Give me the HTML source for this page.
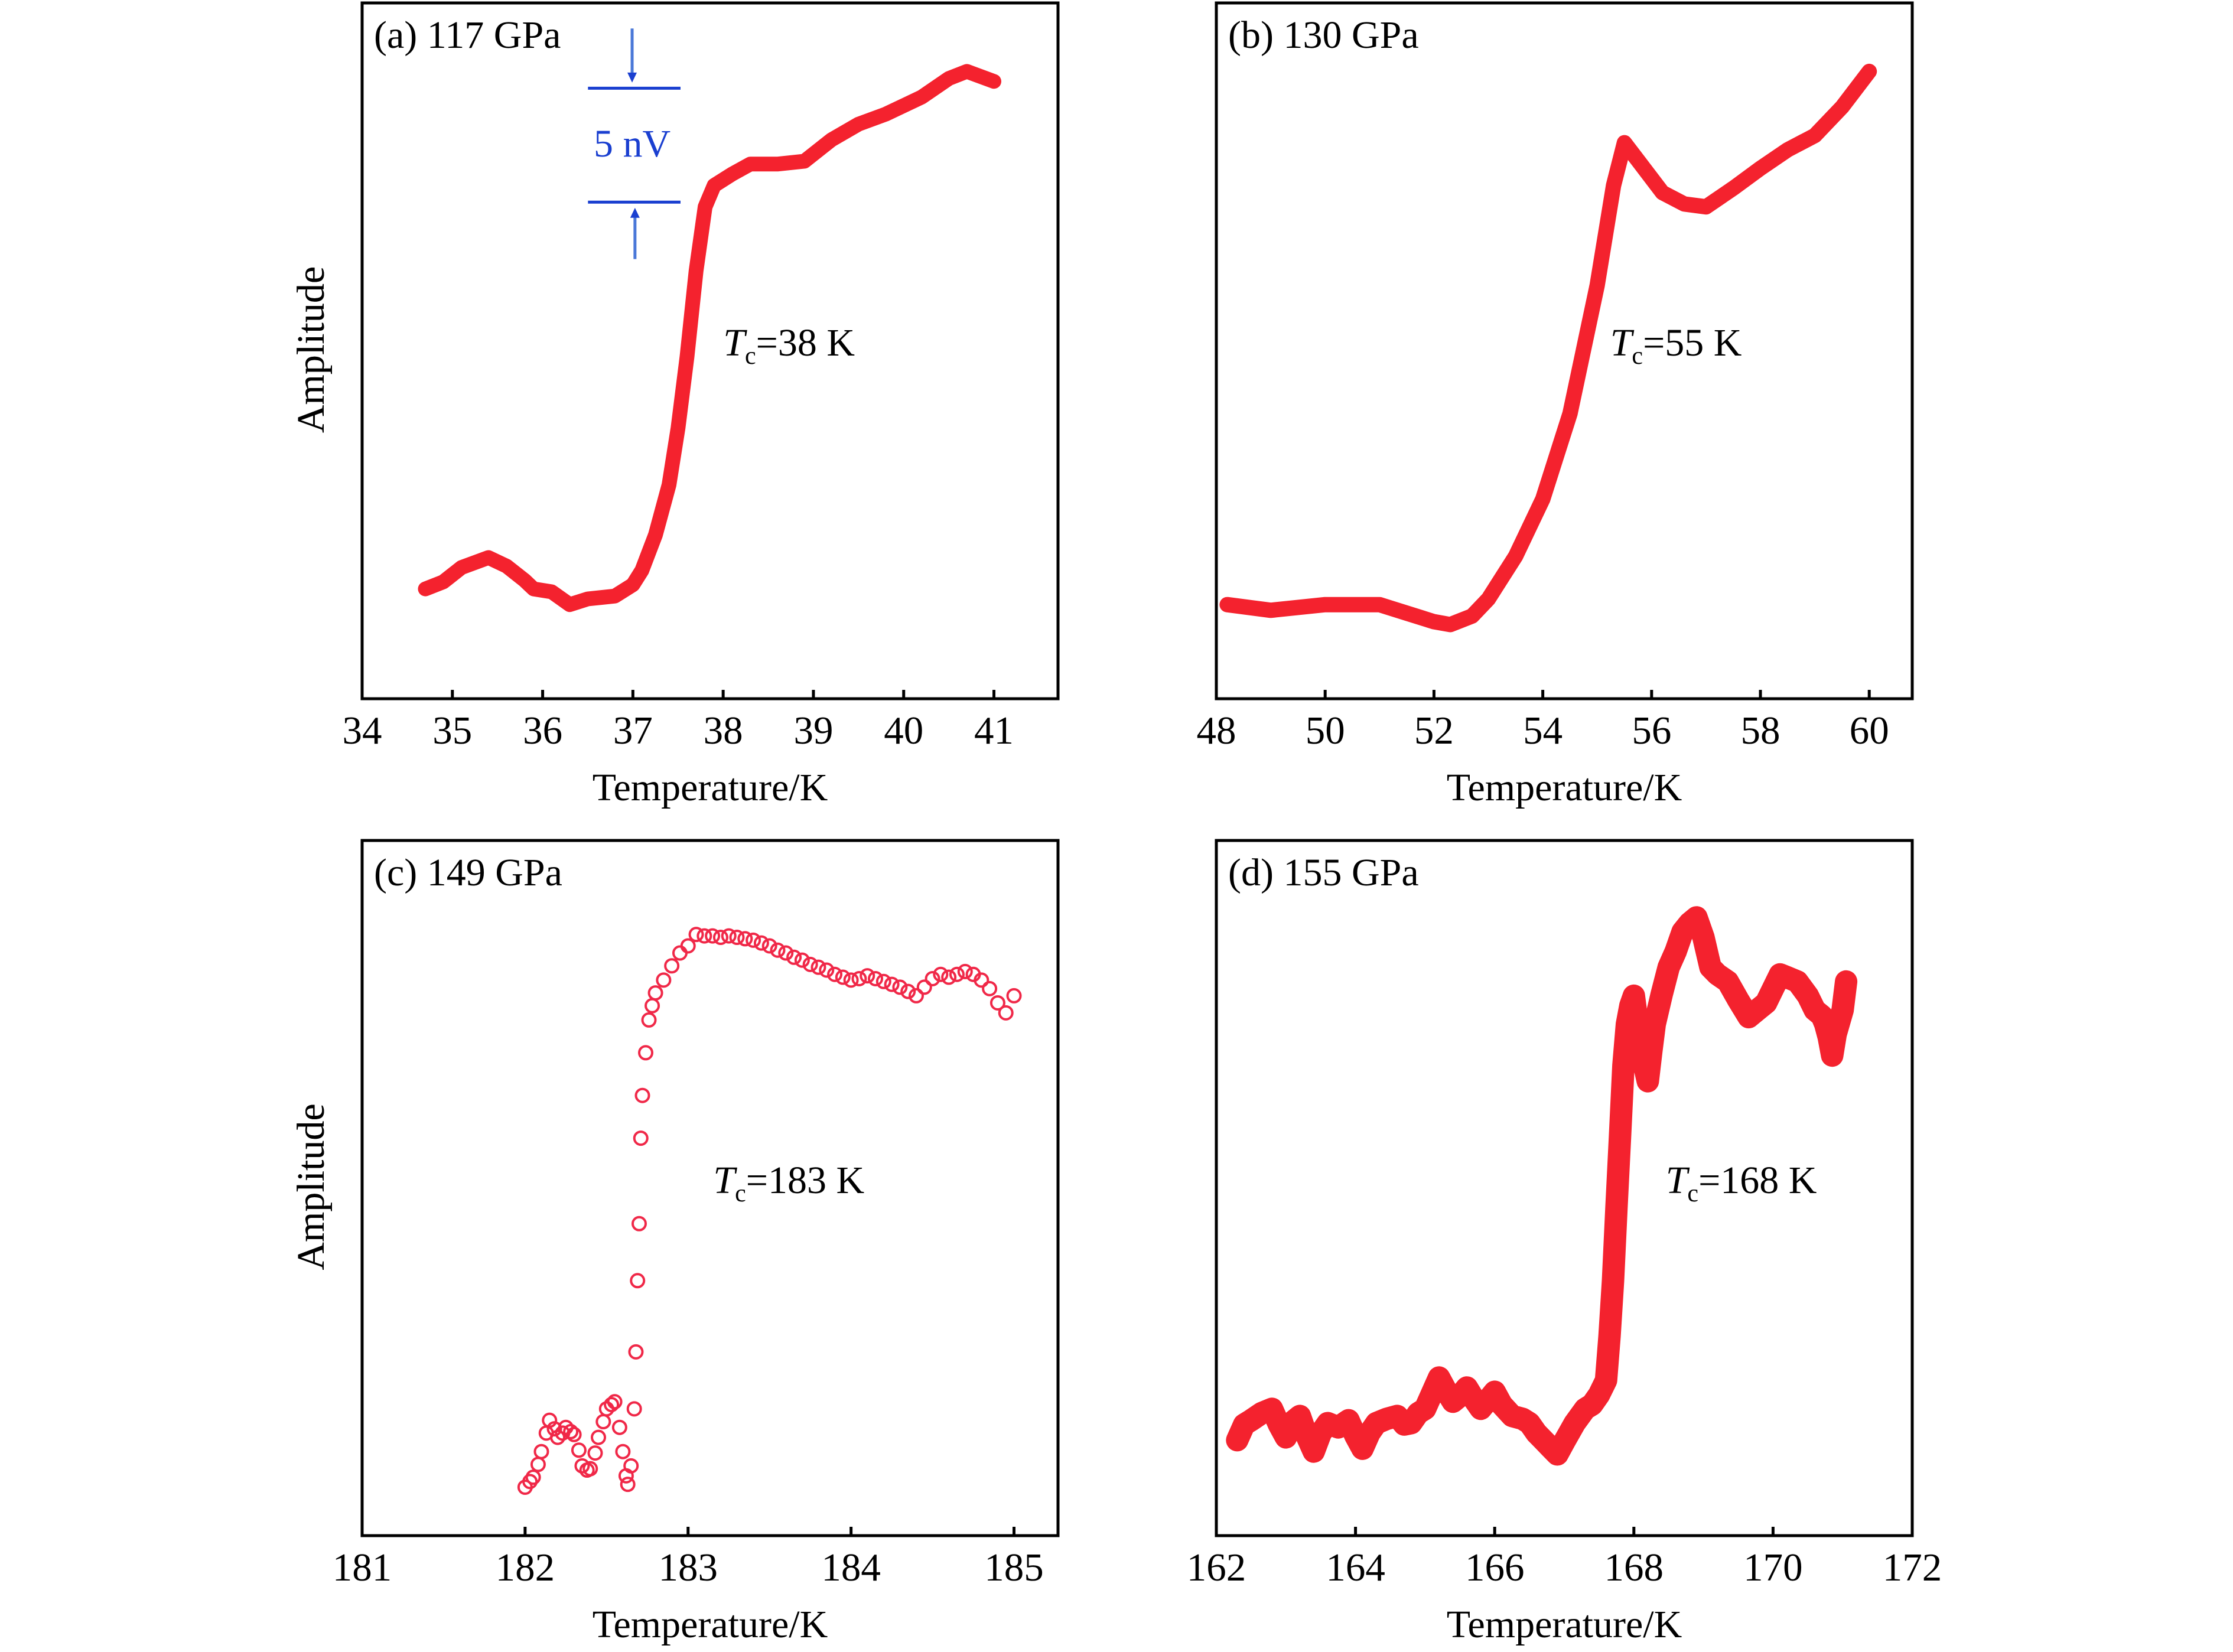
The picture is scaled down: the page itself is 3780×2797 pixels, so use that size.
<!DOCTYPE html>
<html><head><meta charset="utf-8"><style>
html,body{margin:0;padding:0;background:#fff;}
svg{display:block;}
text{font-family:"Liberation Serif",serif;fill:#000;}
</style></head><body>
<svg id="fig" width="3780" height="2797" viewBox="0 0 3780 2797" xmlns="http://www.w3.org/2000/svg"></svg>
<script>
// Panel (a) 117 GPa
const tempA=[34.7,34.9,35.1,35.4,35.6,35.8,35.9,36.1,36.3,36.5,36.8,37.0,37.1,37.25,37.4,37.5,37.6,37.7,37.8,37.9,38.1,38.3,38.6,38.9,39.2,39.5,39.8,40.2,40.5,40.7,41.0];
const ampA=[77,82,92,99,93,83,77,75,66,70,72,80,90,115,150,190,240,300,345,360,368,375,375,377,392,403,410,422,435,440,433];
// Panel (b) 130 GPa
const tempB=[48.2,49,50,51,51.5,52,52.3,52.7,53,53.5,54,54.5,55,55.3,55.5,55.8,56.2,56.6,57,57.5,58,58.5,59,59.5,60];
const ampB=[66,62,66,66,60,54,52,58,70,100,140,200,290,360,390,375,355,347,345,358,372,385,395,415,440];
// Panel (c) 149 GPa
const tempC=[182.0,182.03,182.05,182.08,182.1,182.13,182.15,182.18,182.2,182.23,182.25,182.28,182.3,182.33,182.35,182.38,182.4,182.43,182.45,182.48,182.5,182.53,182.55,182.58,182.6,182.62,182.63,182.65,182.67,182.68,182.69,182.7,182.71,182.72,182.74,182.76,182.78,182.8,182.85,182.9,182.95,183.0,183.05,183.1,183.15,183.2,183.25,183.3,183.35,183.4,183.45,183.5,183.55,183.6,183.65,183.7,183.75,183.8,183.85,183.9,183.95,184.0,184.05,184.1,184.15,184.2,184.25,184.3,184.35,184.4,184.45,184.5,184.55,184.6,184.65,184.7,184.75,184.8,184.85,184.9,184.95,185.0];
const ampC=[34,38,41,50,59,72,81,75,69,72,76,73,71,60,49,46,47,58,69,80,89,92,94,76,59,42,36,49,89,129,179,219,279,309,339,362,372,381,390,400,409,414,422,421,421,420,421,420,419,418,416,414,411,409,406,404,401,399,397,394,392,390,391,393,391,389,387,385,382,379,385,391,394,392,394,396,394,390,384,374,367,379];
// Panel (d) 155 GPa
const tempD=[162.3,162.4,162.5,162.65,162.8,162.9,163.0,163.1,163.2,163.3,163.4,163.5,163.6,163.75,163.9,164.0,164.1,164.2,164.3,164.45,164.6,164.7,164.8,164.9,165.0,165.1,165.2,165.3,165.4,165.5,165.6,165.7,165.8,165.9,166.0,166.1,166.25,166.4,166.5,166.6,166.7,166.8,166.9,167.0,167.15,167.3,167.4,167.5,167.6,167.65,167.7,167.75,167.8,167.85,167.9,167.95,168.0,168.05,168.1,168.15,168.2,168.25,168.3,168.4,168.5,168.6,168.7,168.8,168.9,169.0,169.1,169.2,169.35,169.5,169.65,169.8,169.9,170.0,170.1,170.2,170.35,170.5,170.6,170.7,170.75,170.8,170.85,170.9,171.0,171.05];
const ampD=[67,78,81,86,89,78,69,80,84,70,59,72,79,76,81,70,61,72,79,82,84,78,79,86,89,100,111,102,94,98,104,96,89,95,101,92,84,82,79,72,67,62,57,66,79,89,92,99,109,140,179,230,279,330,359,372,379,360,339,330,319,340,359,380,399,410,424,430,434,420,399,394,389,376,364,370,374,384,394,392,389,379,369,365,359,350,337,352,369,389];
// Tick labels
const ticksA=[34,35,36,37,38,39,40,41];
const ticksB=[48,50,52,54,56,58,60];
const ticksC=[181,182,183,184,185];
const ticksD=[162,164,166,168,170,172];

const NS="http://www.w3.org/2000/svg";
const svg=document.getElementById('fig');
const S=2.41;
function el(tag,attrs,parent){const e=document.createElementNS(NS,tag);for(const k in attrs)e.setAttribute(k,attrs[k]);(parent||svg).appendChild(e);return e;}

function panel(cfg){
  const g=el('g',{});
  
  
  const L=cfg.x0,R=cfg.x1,T=cfg.y0,B=cfg.y1;
  const xs=v=>L+(v-cfg.xmin)/(cfg.xmax-cfg.xmin)*(R-L);
  const ys=v=>B-v/488*(B-T);
  const frame=el('rect',{x:L,y:T,width:R-L,height:B-T,fill:'none',stroke:'#000','stroke-width':5},g);
  
  
  cfg.ticks.forEach(t=>{
    const x=xs(t);
    const tk=el('line',{x1:x,x2:x,y1:B,y2:B-15,stroke:'#000','stroke-width':5},g);
    
    
    const tl=el('text',{x:x,y:B+76,'font-size':67,'text-anchor':'middle'},g);
    tl.textContent=t;
    
    
  });
  const xt=el('text',{x:(L+R)/2,y:B+172,'font-size':66,'text-anchor':'middle'},g);
  xt.textContent='Temperature/K';
  
  
  const cy=(T+B)/2-2;
  const yt=el('text',{x:0,y:0,'font-size':66,'text-anchor':'middle',transform:`translate(548,${cy}) rotate(-90)`},g);
  yt.textContent='Amplitude';
  
  
  const pl=el('text',{x:L+20,y:T+76,'font-size':66},g);
  pl.textContent=cfg.label;
  
  
  const tc=el('text',{x:cfg.tcx,y:T+597,'font-size':66},g);
  const ti=el('tspan',{'font-style':'italic'},tc);ti.textContent='T';
  const ts=el('tspan',{'font-size':42,dy:14},tc);ts.textContent='c';
  const tr=el('tspan',{dy:-14},tc);tr.textContent=cfg.tc;
  
  
  const pts=cfg.t.map((v,i)=>xs(v).toFixed(1)+','+ys(cfg.a[i]).toFixed(1)).join(' ');
  if(cfg.circles){
    cfg.t.forEach((v,i)=>{
      const c=el('circle',{cx:xs(v),cy:ys(cfg.a[i]),r:11,fill:'none',stroke:'#f02848','stroke-width':4},g);
      
      
    });
  } else {
    const ln=el('polyline',{points:pts,fill:'none',stroke:'#f4222e','stroke-width':cfg.sw,'stroke-linejoin':'round','stroke-linecap':'round'},g);
    
    
  }
  return g;
}
panel({name:'panel-a',x0:613,x1:1791,y0:5,y1:1183,xmin:34,xmax:41.71,ticks:ticksA,label:'(a) 117 GPa',tc:'=38 K',tcx:508*S,t:tempA,a:ampA,sw:25});
panel({name:'panel-b',x0:2059,x1:3237,y0:5,y1:1183,xmin:48,xmax:60.79,ticks:ticksB,label:'(b) 130 GPa',tc:'=55 K',tcx:1131*S,t:tempB,a:ampB,sw:26});
panel({name:'panel-c',x0:613,x1:1791,y0:1423,y1:2600,xmin:181,xmax:185.27,ticks:ticksC,label:'(c) 149 GPa',tc:'=183 K',tcx:501*S,t:tempC,a:ampC,circles:true});
panel({name:'panel-d',x0:2059,x1:3237,y0:1423,y1:2600,xmin:162,xmax:172,ticks:ticksD,label:'(d) 155 GPa',tc:'=168 K',tcx:1170*S,t:tempD,a:ampD,sw:38});

// 5 nV scale annotation
const ann=el('g',{});


el('line',{x1:413*S,x2:478*S,y1:62*S,y2:62*S,stroke:'#1a3fd0','stroke-width':5},ann);
el('line',{x1:413*S,x2:478*S,y1:142*S,y2:142*S,stroke:'#1a3fd0','stroke-width':5},ann);
el('line',{x1:444*S,x2:444*S,y1:20*S,y2:55*S,stroke:'#4a78d8','stroke-width':5},ann);
el('polygon',{points:`${444*S-8},${51*S} ${444*S+8},${51*S} ${444*S},${58*S}`,fill:'#1a3fd0'},ann);
el('line',{x1:446*S,x2:446*S,y1:182*S,y2:149*S,stroke:'#4a78d8','stroke-width':5},ann);
el('polygon',{points:`${446*S-8},${153*S} ${446*S+8},${153*S} ${446*S},${146*S}`,fill:'#1a3fd0'},ann);
const nv=el('text',{x:444*S,y:110*S,'font-size':66,'text-anchor':'middle',style:'fill:#1a3fd0'},ann);
nv.textContent='5 nV';


</script>
</body></html>
